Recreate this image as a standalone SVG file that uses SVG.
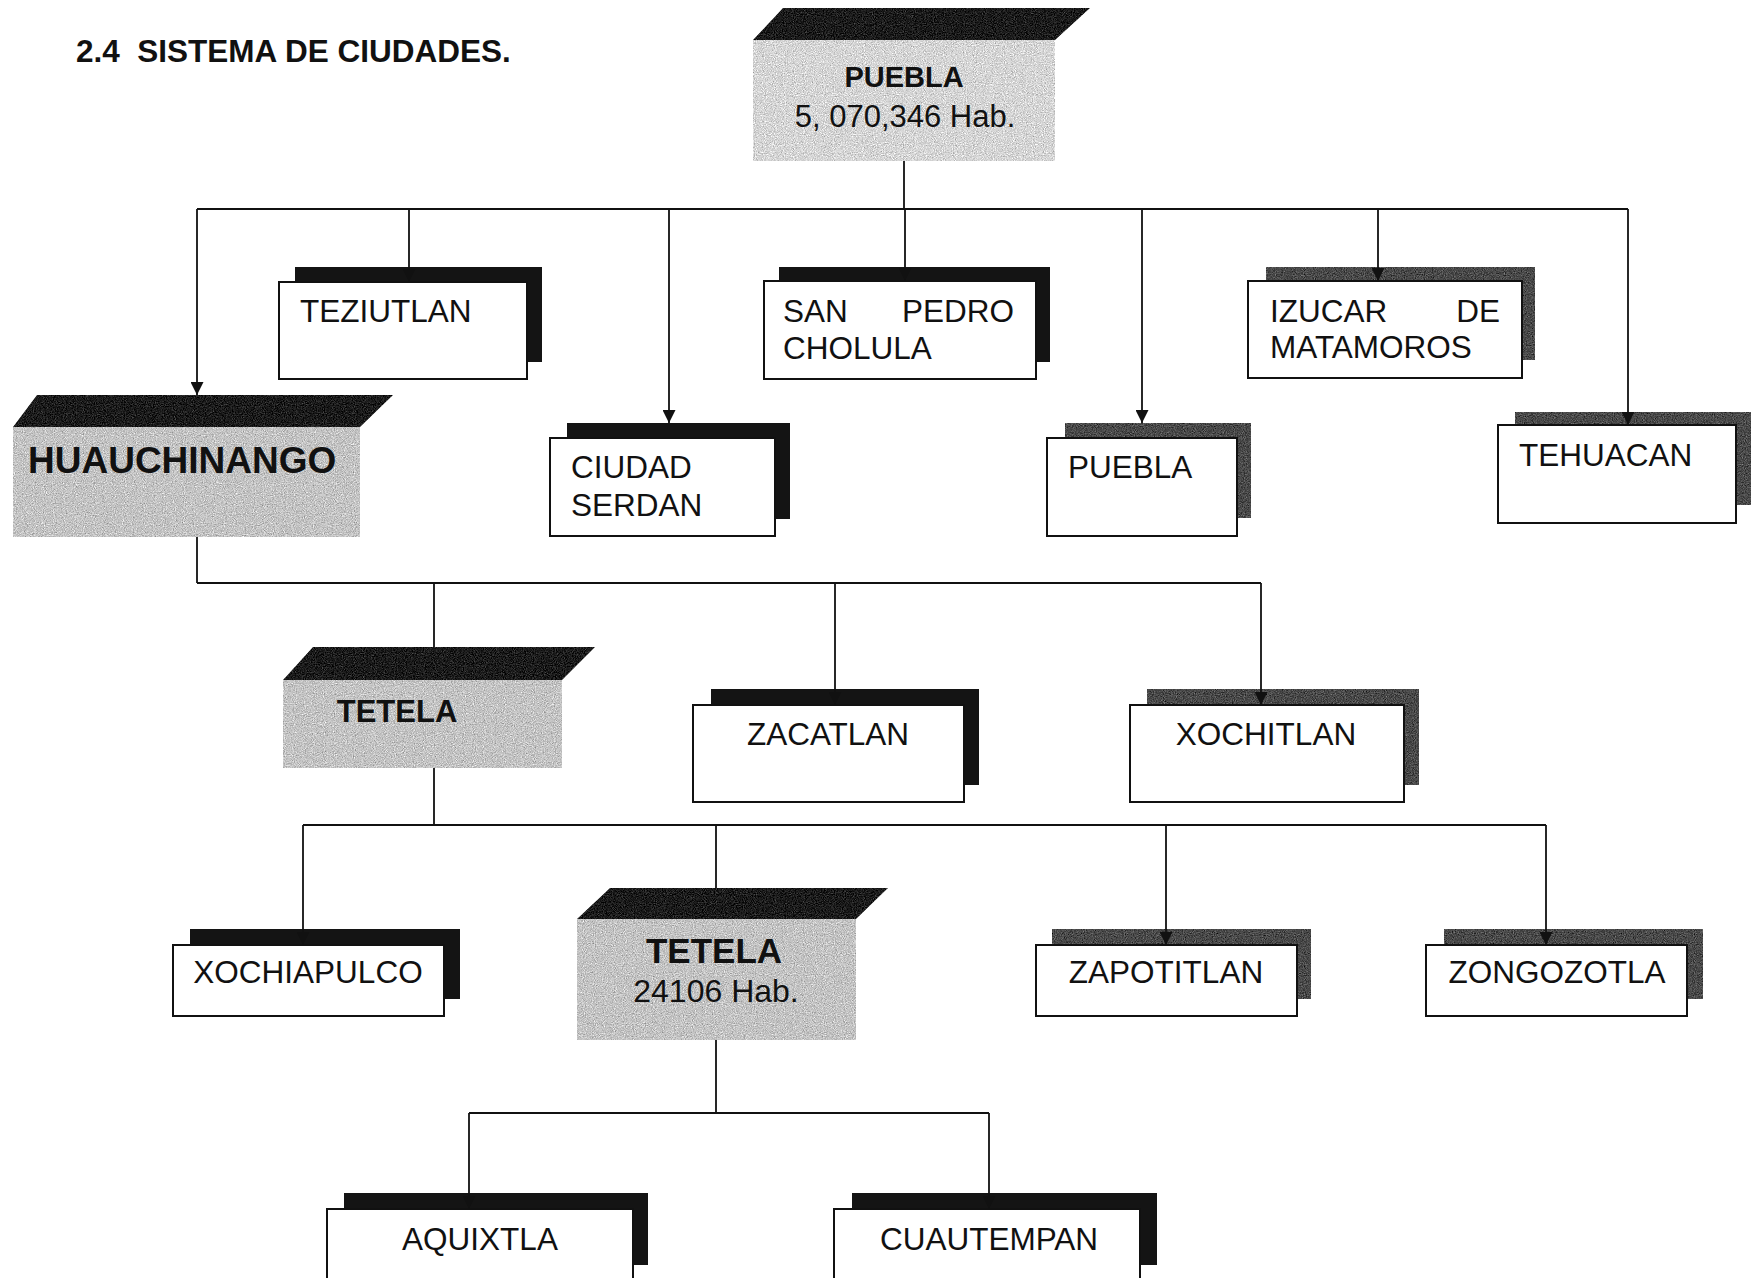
<svg xmlns="http://www.w3.org/2000/svg" width="1751" height="1278" viewBox="0 0 1751 1278">
<defs>
<style>
.lbl{font-family:"Liberation Sans",Arial,sans-serif;font-size:31.5px;fill:#111}
.c{text-anchor:middle}
.b{font-weight:bold}
.box{fill:#fff;stroke:#111;stroke-width:2}
.sh{fill:#141414}
.shg{fill:#4a4a4a;filter:url(#grain)}
.top{fill:#1c1c1c;filter:url(#grain)}
.g1{fill:#d6d6d6;filter:url(#grain)}
.g2{fill:#c4c4c4;filter:url(#grain)}
.ln{fill:none;stroke:#111;stroke-width:1.8}
.ar{marker-end:url(#arr)}
</style>
<filter id="grain" x="0" y="0" width="1" height="1" color-interpolation-filters="sRGB">
<feTurbulence type="fractalNoise" baseFrequency="0.9" numOctaves="2" seed="7" result="n"/>
<feColorMatrix in="n" type="matrix" values="0.33 0.33 0.33 0 0 0.33 0.33 0.33 0 0 0.33 0.33 0.33 0 0 0 0 0 0 1" result="g"/>
<feComposite in="SourceGraphic" in2="g" operator="arithmetic" k1="0" k2="1" k3="1.0" k4="-0.5" result="m"/>
<feComposite in="m" in2="SourceGraphic" operator="in"/>
</filter>
<marker id="arr" markerUnits="userSpaceOnUse" markerWidth="13" markerHeight="13" refX="13" refY="6.5" orient="auto">
<path d="M0,0 L13,6.5 L0,13 z" fill="#111"/>
</marker>
</defs>
<rect width="1751" height="1278" fill="#fff"/>
<text class="lbl b" x="76" y="62" style="font-size:31.5px;white-space:pre" xml:space="preserve">2.4  SISTEMA DE CIUDADES.</text>

<g id="puebla-top">
<polygon class="top" points="783,8 1090,8 1055,40 753,40"/>
<rect class="g1" x="753" y="40" width="302" height="121"/>
<text class="lbl b c" x="904" y="87" style="font-size:29px">PUEBLA</text>
<text class="lbl c" x="905" y="127" style="font-size:31px">5, 070,346 Hab.</text>
</g>

<g id="teziutlan">
<rect class="sh" x="295" y="267" width="247" height="95"/>
<rect class="box" x="279" y="282" width="248" height="97"/>
<text class="lbl" x="300" y="322">TEZIUTLAN</text>
</g>

<g id="san-pedro-cholula">
<rect class="sh" x="779" y="267" width="271" height="95"/>
<rect class="box" x="764" y="281" width="272" height="98"/>
<text class="lbl" y="322"><tspan x="783">SAN</tspan><tspan x="1014" text-anchor="end">PEDRO</tspan><tspan x="783" y="359">CHOLULA</tspan></text>
</g>

<g id="izucar-de-matamoros">
<rect class="shg" x="1266" y="267" width="269" height="93"/>
<rect class="box" x="1248" y="281" width="274" height="97"/>
<text class="lbl" y="322"><tspan x="1270">IZUCAR</tspan><tspan x="1500" text-anchor="end">DE</tspan><tspan x="1270" y="358">MATAMOROS</tspan></text>
</g>

<g id="huauchinango">
<polygon class="top" points="37,395 393,395 360,427 13,427"/>
<rect class="g2" x="13" y="427" width="347" height="110"/>
<text class="lbl b" x="28" y="473" style="font-size:37px">HUAUCHINANGO</text>
</g>

<g id="ciudad-serdan">
<rect class="sh" x="567" y="423" width="223" height="96"/>
<rect class="box" x="550" y="438" width="225" height="98"/>
<text class="lbl" x="571" y="478">CIUDAD<tspan x="571" y="516">SERDAN</tspan></text>
</g>

<g id="puebla">
<rect class="shg" x="1065" y="423" width="186" height="95"/>
<rect class="box" x="1047" y="438" width="190" height="98"/>
<text class="lbl" x="1068" y="478">PUEBLA</text>
</g>

<g id="tehuacan">
<rect class="shg" x="1515" y="412" width="236" height="93"/>
<rect class="box" x="1498" y="425" width="238" height="98"/>
<text class="lbl" x="1519" y="466">TEHUACAN</text>
</g>

<g id="tetela-1">
<polygon class="top" points="313,647 595,647 562,680 283,680"/>
<rect class="g2" x="283" y="680" width="279" height="88"/>
<text class="lbl b c" x="397" y="722" style="font-size:31px">TETELA</text>
</g>

<g id="zacatlan">
<rect class="sh" x="711" y="689" width="268" height="96"/>
<rect class="box" x="693" y="705" width="271" height="97"/>
<text class="lbl c" x="828" y="745">ZACATLAN</text>
</g>

<g id="xochitlan">
<rect class="shg" x="1147" y="689" width="272" height="96"/>
<rect class="box" x="1130" y="705" width="274" height="97"/>
<text class="lbl c" x="1266" y="745">XOCHITLAN</text>
</g>

<g id="xochiapulco">
<rect class="sh" x="190" y="929" width="270" height="70"/>
<rect class="box" x="173" y="945" width="271" height="71"/>
<text class="lbl c" x="308" y="983">XOCHIAPULCO</text>
</g>

<g id="tetela-2">
<polygon class="top" points="610,888 888,888 856,919 577,919"/>
<rect class="g2" x="577" y="919" width="279" height="121"/>
<text class="lbl b c" x="714" y="963" style="font-size:35px">TETELA</text>
<text class="lbl c" x="716" y="1002" style="font-size:32px">24106 Hab.</text>
</g>

<g id="zapotitlan">
<rect class="shg" x="1052" y="929" width="259" height="70"/>
<rect class="box" x="1036" y="945" width="261" height="71"/>
<text class="lbl c" x="1166" y="983">ZAPOTITLAN</text>
</g>

<g id="zongozotla">
<rect class="shg" x="1444" y="929" width="259" height="70"/>
<rect class="box" x="1426" y="945" width="261" height="71"/>
<text class="lbl c" x="1557" y="983">ZONGOZOTLA</text>
</g>

<g id="aquixtla">
<rect class="sh" x="344" y="1193" width="304" height="72"/>
<rect class="box" x="327" y="1209" width="306" height="80"/>
<text class="lbl c" x="480" y="1250">AQUIXTLA</text>
</g>

<g id="cuautempan">
<rect class="sh" x="852" y="1193" width="305" height="72"/>
<rect class="box" x="834" y="1209" width="306" height="80"/>
<text class="lbl c" x="989" y="1250">CUAUTEMPAN</text>
</g>

<g id="connectors">
<path class="ln" d="M904,161 V209 M197,209 H1628"/>
<path class="ln ar" d="M197,209 V395"/>
<path class="ln ar" d="M409,209 V282"/>
<path class="ln ar" d="M669,209 V423"/>
<path class="ln ar" d="M905,209 V281"/>
<path class="ln ar" d="M1142,209 V423"/>
<path class="ln ar" d="M1378,209 V281"/>
<path class="ln ar" d="M1628,209 V425"/>
<path class="ln" d="M197,537 V583 M197,583 H1261 M434,583 V647"/>
<path class="ln ar" d="M835,583 V705"/>
<path class="ln ar" d="M1261,583 V705"/>
<path class="ln" d="M434,768 V825 M303,825 H1546 M716,825 V888"/>
<path class="ln ar" d="M303,825 V945"/>
<path class="ln ar" d="M1166,825 V945"/>
<path class="ln ar" d="M1546,825 V945"/>
<path class="ln" d="M716,1040 V1113 M469,1113 H989"/>
<path class="ln ar" d="M469,1113 V1209"/>
<path class="ln ar" d="M989,1113 V1209"/>
</g>
</svg>
